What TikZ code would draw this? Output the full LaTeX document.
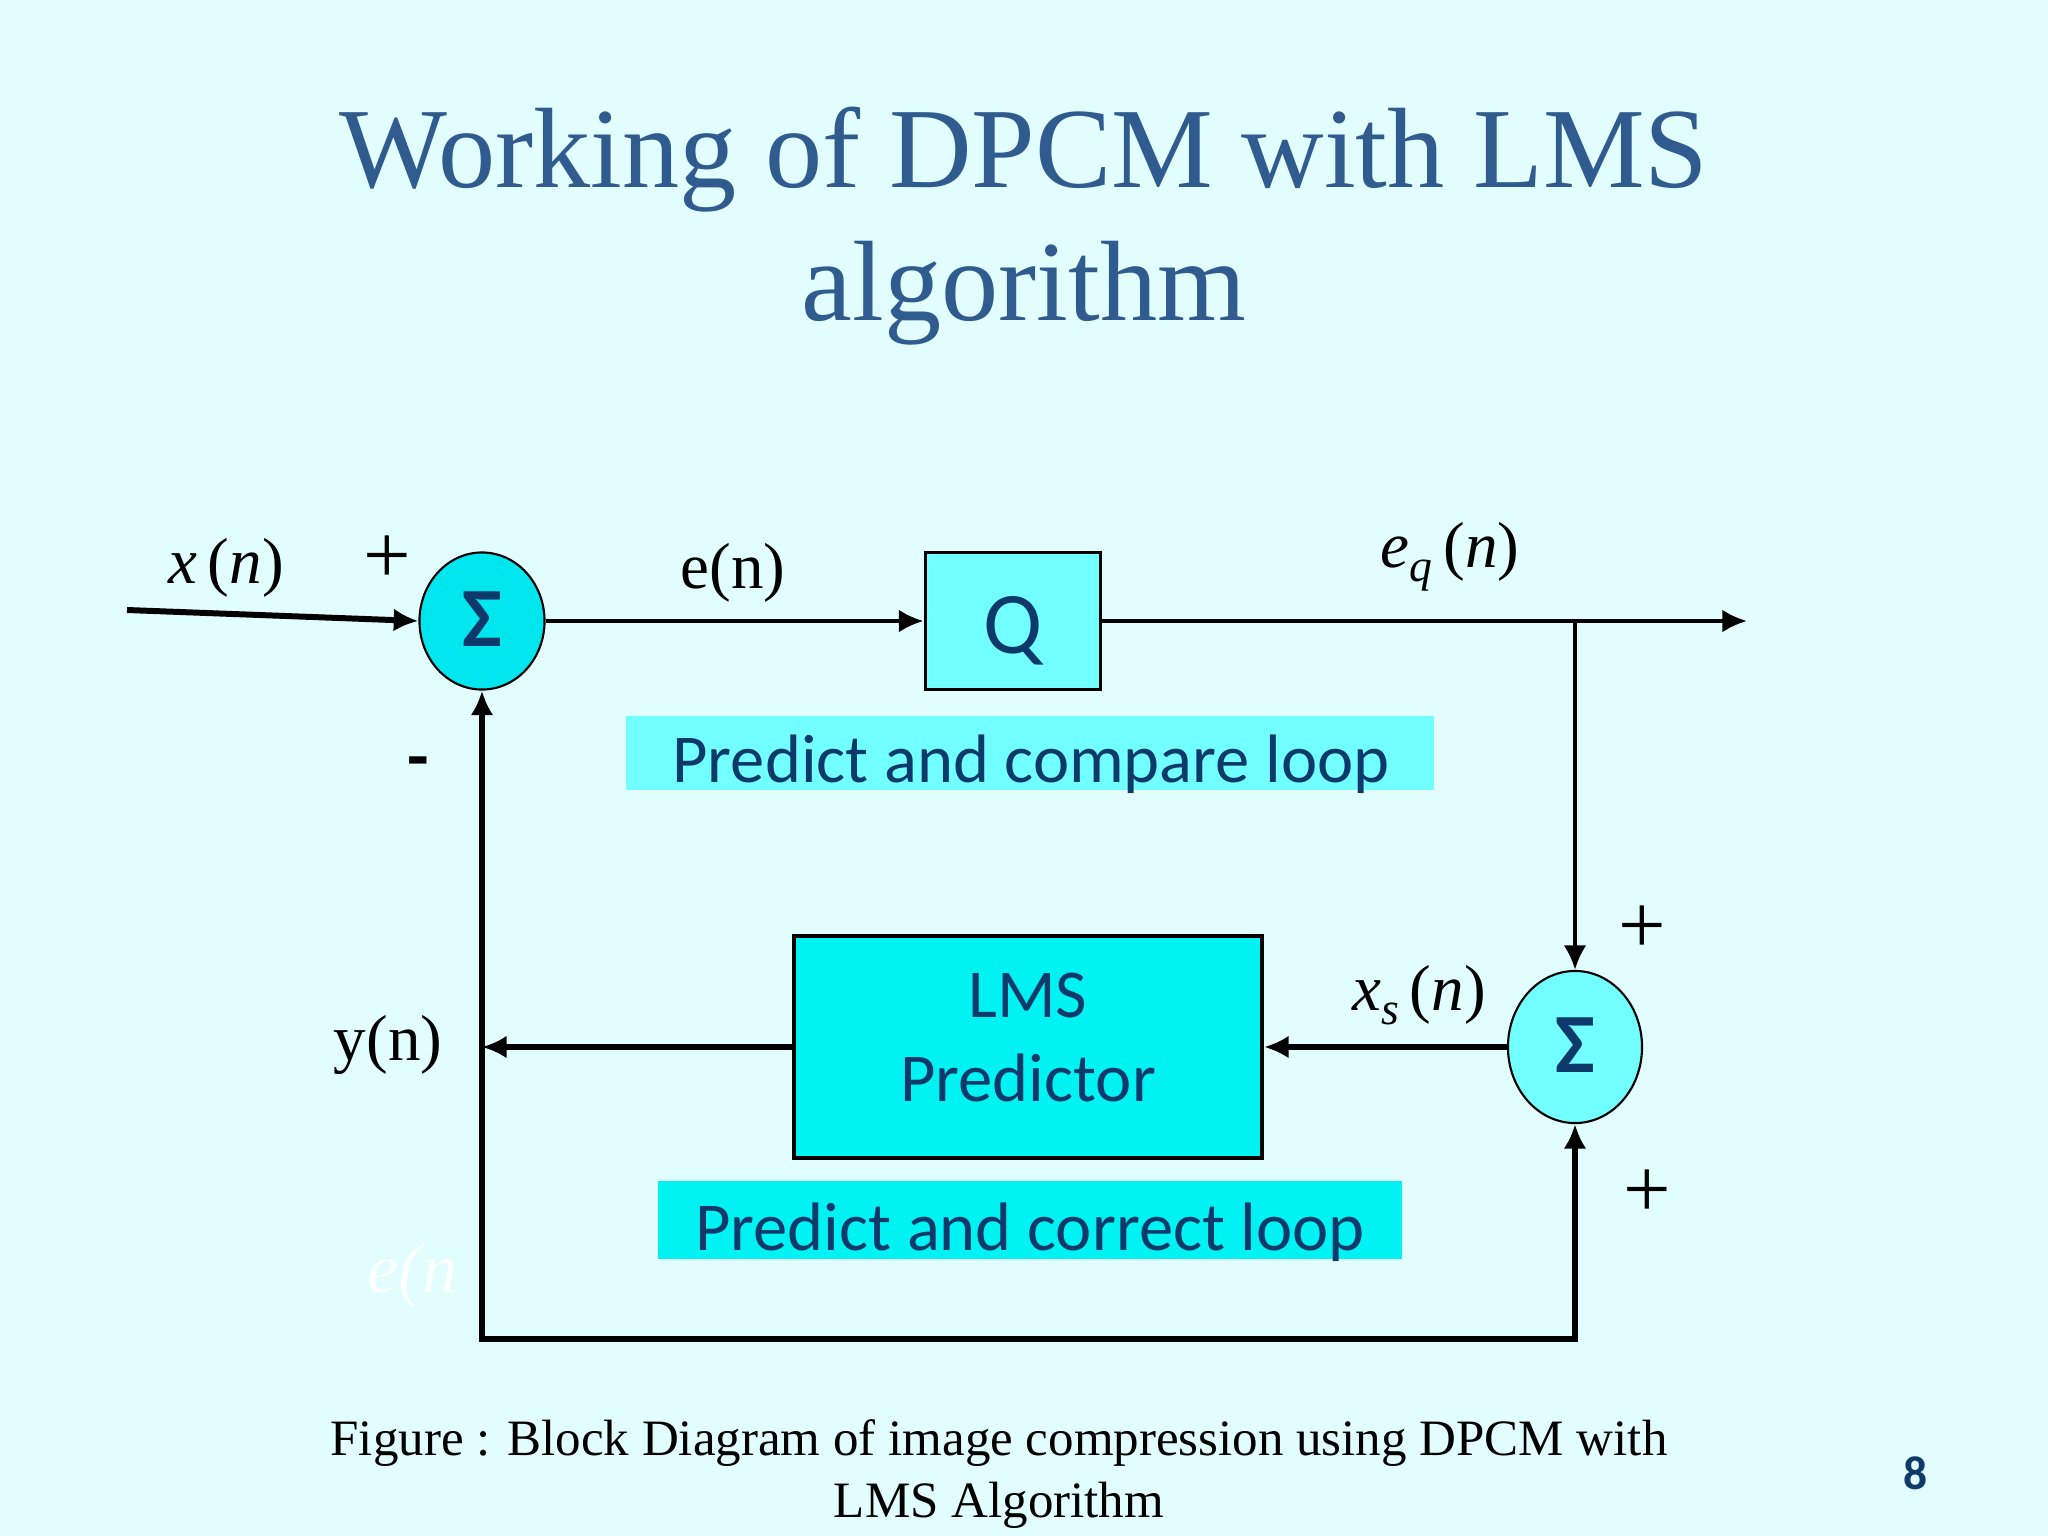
\documentclass[tikz,border=0pt]{standalone}
\usepackage{fontspec}
\setmainfont{Liberation Serif}
\setsansfont{Carlito}
\usepackage{tikz}
\usetikzlibrary{arrows.meta,positioning,shapes.geometric,calc}
\definecolor{DpcmBg}{HTML}{E1FDFD}
\definecolor{DpcmAqua}{HTML}{00E6EE}
\definecolor{DpcmCyan}{HTML}{00F2F2}
\definecolor{DpcmPale}{HTML}{72FFFF}
\definecolor{DpcmNavy}{HTML}{0D3A6B}
\definecolor{DpcmTitle}{HTML}{2F5B8E}
\newcommand{\sigsub}[2]{\textit{#1}\raisebox{-0.5ex}{\fontsize{13}{13}\selectfont\textit{#2}}}
\tikzset{
  figtitle/.style={font=\fontsize{32.5}{38}\selectfont, text=DpcmTitle},
  figlabel/.style={font=\fontsize{18.5}{22}\selectfont, text=black, inner sep=0pt},
  figsign/.style={font=\fontsize{24}{24}\selectfont, text=black, inner sep=0pt},
  figcaption/.style={font=\fontsize{14.5}{17}\selectfont, text=black, inner sep=0pt},
  blocktext/.style={font=\sffamily\fontsize{19.5}{24}\selectfont, text=DpcmNavy},
  sumnode/.style={ellipse, draw=black, line width=0.6pt, inner sep=0pt, font=\sffamily\bfseries\fontsize{24}{24}\selectfont, text=DpcmNavy, text height=0.5cm, text depth=0pt},
  blockbox/.style={rectangle, draw=black, line width=1.1pt, inner sep=0pt, blocktext},
  loopband/.style={rectangle, fill=DpcmCyan, inner sep=0pt},
  sigflow/.style={-{Latex[length=7pt,width=6.5pt]}, line width=1.5pt, draw=black},
  sigthin/.style={sigflow, line width=1.15pt},
  sigboth/.style={{Latex[length=7pt,width=6.5pt]}-{Latex[length=7pt,width=6.5pt]}, line width=1.5pt, draw=black}
}
\begin{document}
\begin{tikzpicture}[x=0.01cm, y=-0.01cm]
\useasboundingbox (0,0) rectangle (2048,1536);
\fill[DpcmBg] (0,0) rectangle (2048,1536);
\node[figtitle, anchor=base] (title1) at (1024,187) {Working of DPCM with LMS};
\node[figtitle, anchor=base] (title2) at (1024,320) {algorithm};
\node[loopband, fill=DpcmPale, minimum width=8.07cm, minimum height=0.74cm] (cmpband) at (1030,753) {};
\node[blocktext, anchor=base, inner sep=0pt] (cmptext) at (1031,782) {Predict and compare loop};
\node[loopband, minimum width=7.43cm, minimum height=0.78cm] (corband) at (1030,1220) {};
\node[blocktext, anchor=base, inner sep=0pt] (cortext) at (1030,1250) {Predict and correct loop};
\node[font=\itshape\fontsize{20}{20}\selectfont, text=white, opacity=0.85, anchor=base west, inner sep=0pt] (ghost) at (367,1292) {e(n};
\node[sumnode, fill=DpcmAqua, minimum width=1.25cm, minimum height=1.37cm] (sum1) at (482,621) {Σ};
\node[blockbox, fill=DpcmPale, minimum width=1.75cm, minimum height=1.37cm, font=\sffamily\fontsize{25}{25}\selectfont, text height=0.64cm, text depth=0pt] (q) at (1013,621) {Q};
\node[sumnode, fill=DpcmPale, minimum width=1.34cm, minimum height=1.52cm] (sum2) at (1575,1047) {Σ};
\node[blockbox, fill=DpcmCyan, minimum width=4.68cm, minimum height=2.22cm, align=center, text depth=0.2cm] (lms) at (1028,1047) {LMS\\Predictor};
\coordinate (xin) at (127,610);
\coordinate (out) at (1747,621);
\coordinate (tap) at (sum2.north |- q.east);
\coordinate (yjoin) at (sum1.south |- lms.west);
\coordinate (bl) at (482,1339);
\coordinate (br) at (sum2.south |- bl);
\draw[sigflow, line width=1.7pt] (xin) -- (sum1.west);
\draw[sigthin] (sum1.east) -- (q.west);
\draw[sigthin] (q.east) -- (out);
\draw[sigthin] (tap) -- (sum2.north);
\draw[sigflow] (sum2.west) -- (lms.east);
\draw[sigflow] (lms.west) -- (yjoin);
\draw[sigboth] (sum1.south) -- (bl) -- (br) -- (sum2.south);
\node[figlabel, anchor=base] (xlabel) at (226,583) {\textit{x}\,(\textit{n})};
\node[figlabel, anchor=base] (elabel) at (733,588) {e(n)};
\node[figlabel, anchor=base] (eqlabel) at (1450,567) {\sigsub{e}{q}\,(\textit{n})};
\node[figlabel, anchor=base] (xslabel) at (1419,1010) {\sigsub{x}{s}\,(\textit{n})};
\node[figlabel, anchor=base] (ylabel) at (388,1060) {y(n)};
\node[figsign] (plus1) at (387,560) {+};
\node[figsign] (plus2) at (1642,930) {+};
\node[figsign] (plus3) at (1647,1194) {+};
\node[figsign, font=\sffamily\bfseries\fontsize{20}{20}\selectfont] (minus1) at (418,769) {-};
\node[figcaption, anchor=base] (cap1) at (999,1455) {Figure : Block Diagram of image compression using DPCM with};
\node[figcaption, anchor=base] (cap2) at (999,1517) {LMS Algorithm};
\node[font=\sffamily\bfseries\fontsize{13.5}{14}\selectfont, text=DpcmNavy] (pagenum) at (1916,1473) {8};
\end{tikzpicture}
\end{document}
